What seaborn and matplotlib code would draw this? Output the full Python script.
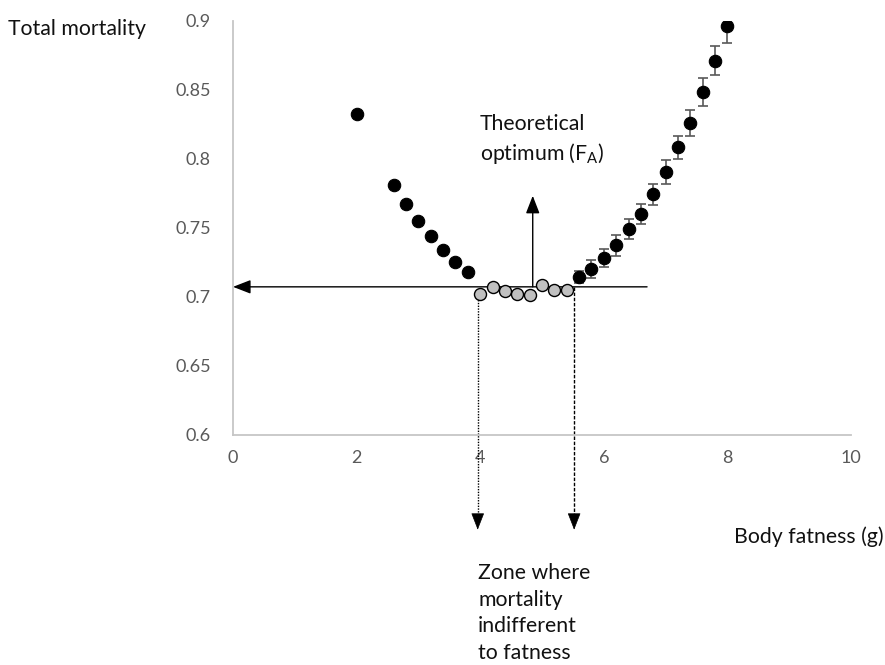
import matplotlib
matplotlib.use("Agg")
import matplotlib.pyplot as plt
import seaborn as sns
import pandas as pd

# ---- data ----
left_x = [2.0, 2.6, 2.8, 3.0, 3.2, 3.4, 3.6, 3.8]
left_y = [0.832, 0.781, 0.767, 0.755, 0.744, 0.734, 0.725, 0.718]
grey_x = [4.0, 4.2, 4.4, 4.6, 4.8, 5.0, 5.2, 5.4]
grey_y = [0.702, 0.707, 0.704, 0.702, 0.701, 0.708, 0.705, 0.705]
right_x = [5.6, 5.8, 6.0, 6.2, 6.4, 6.6, 6.8, 7.0, 7.2, 7.4, 7.6, 7.8, 8.0]
right_y = [0.714, 0.720, 0.728, 0.737, 0.749, 0.760, 0.774, 0.790, 0.808, 0.826, 0.848, 0.871, 0.896]
right_err = [0.0045, 0.0064, 0.0063, 0.0076, 0.0075, 0.0073, 0.0077, 0.0087, 0.0084, 0.0095, 0.010, 0.0108, 0.012]

x_ticks = [0, 2, 4, 6, 8, 10]
y_ticks = [0.6, 0.65, 0.7, 0.75, 0.8, 0.85, 0.9]
y_tick_labels = ["0.6", "0.65", "0.7", "0.75", "0.8", "0.85", "0.9"]

optimum_level = 0.707
optimum_x = 4.85
optimum_arrow_top = 0.773
line_right_end = 6.7
zone_left = 3.96
zone_right = 5.52
zone_bottom = 0.531

sns.set_theme(style="white")
FONT = ["Lato", "DejaVu Sans"]
plt.rcParams["font.family"] = FONT
plt.rcParams["mathtext.fontset"] = "custom"
plt.rcParams["mathtext.rm"] = "Lato"

fig = plt.figure(figsize=(8.85, 6.65), dpi=100)
ax = fig.add_axes([233 / 885, 1 - 434.5 / 665, (851 - 233) / 885, (434.5 - 20.5) / 665])

black_df = pd.DataFrame({"x": left_x + right_x, "y": left_y + right_y})
grey_df = pd.DataFrame({"x": grey_x, "y": grey_y})

ax.errorbar(right_x, right_y, yerr=right_err, fmt="none", ecolor="#595959",
            elinewidth=1.2, capsize=3.5, capthick=1.2, zorder=2)

# reference lines
ax.annotate("", xy=(0, optimum_level), xytext=(line_right_end, optimum_level),
            arrowprops=dict(arrowstyle="-|>,head_length=0.9,head_width=0.35",
                            color="black", lw=1.0, shrinkA=0, shrinkB=0),
            annotation_clip=False, zorder=3)
ax.annotate("", xy=(optimum_x, optimum_arrow_top), xytext=(optimum_x, optimum_level),
            arrowprops=dict(arrowstyle="-|>,head_length=0.9,head_width=0.35",
                            color="black", lw=1.0, shrinkA=0, shrinkB=0),
            annotation_clip=False, zorder=3)

ax.plot([zone_left, zone_left], [grey_y[0], zone_bottom + 0.006], ls=(0, (1, 1)),
        color="black", lw=1.0, clip_on=False, zorder=1)
ax.plot([zone_right, zone_right], [optimum_level, zone_bottom + 0.006], ls=(0, (2.5, 1.2)),
        color="black", lw=1.0, clip_on=False, zorder=1)
for zx in (zone_left, zone_right):
    ax.annotate("", xy=(zx, zone_bottom), xytext=(zx, zone_bottom + 0.008),
                arrowprops=dict(arrowstyle="-|>,head_length=0.9,head_width=0.35",
                                color="black", lw=0.5, shrinkA=0, shrinkB=0),
                annotation_clip=False)

sns.scatterplot(data=black_df, x="x", y="y", ax=ax, color="black", s=80,
                edgecolor="black", linewidth=0.8, zorder=4, legend=False)
sns.scatterplot(data=grey_df, x="x", y="y", ax=ax, color="#c0c0c0", s=75,
                edgecolor="black", linewidth=1.0, zorder=4, legend=False)

ax.set_xlim(0, 10)
ax.set_ylim(0.6, 0.9)
ax.set_xticks(x_ticks)
ax.set_yticks(y_ticks)
ax.set_yticklabels(y_tick_labels)
ax.set_xlabel("")
ax.set_ylabel("")
ax.tick_params(axis="both", length=0, labelsize=13, colors="#595959", pad=16)
ax.tick_params(axis="x", pad=11)
for side in ("top", "right"):
    ax.spines[side].set_visible(False)
for side in ("left", "bottom"):
    ax.spines[side].set_color("#c6c6c6")
    ax.spines[side].set_linewidth(1.3)

def px(x, y):
    return x / 885, 1 - y / 665

tc = "#111111"
FS = 15.3
fig.text(*px(8, 29), "Total mortality", fontsize=FS, color=tc, va="center", ha="left")
fig.text(*px(884, 537), "Body fatness (g)", fontsize=FS, color=tc, va="center", ha="right")
fig.text(*px(480, 140), "Theoretical\noptimum (F$_{\\mathrm{A}}$)", fontsize=FS, color=tc,
         va="center", ha="left", linespacing=1.38)
fig.text(*px(478, 613), "Zone where\nmortality\nindifferent\nto fatness", fontsize=FS,
         color=tc, va="center", ha="left", linespacing=1.43)

fig.savefig("out.png", dpi=100)
